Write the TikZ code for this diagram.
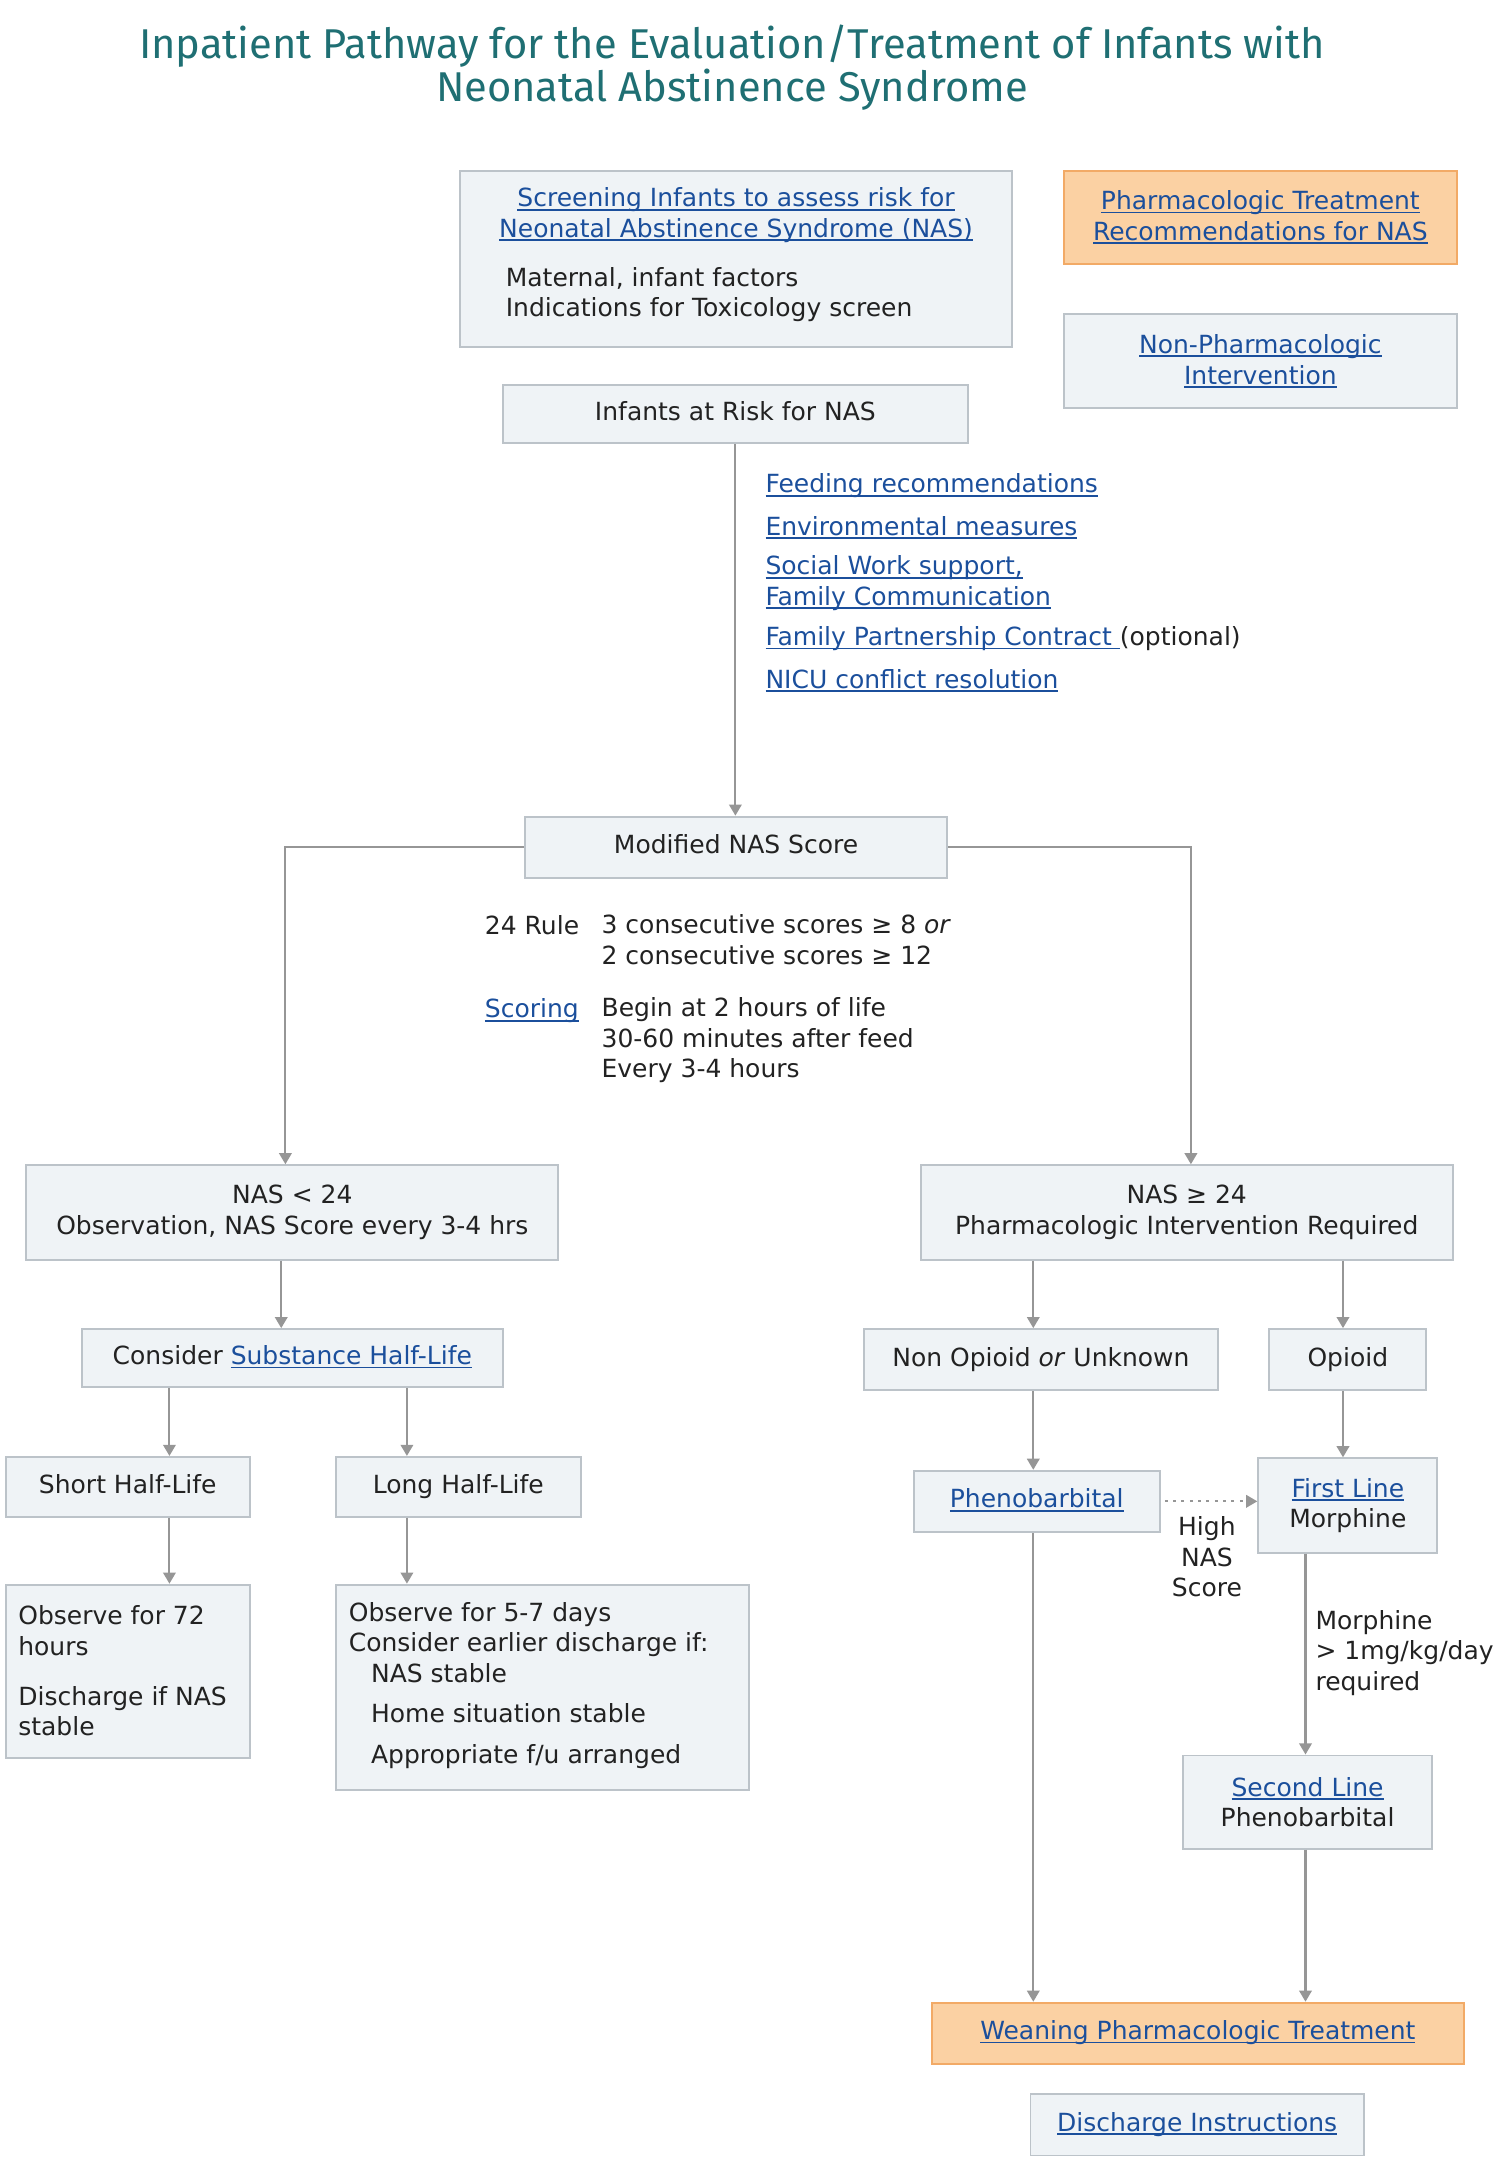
\documentclass[tikz,border=0pt]{standalone}
\usepackage{fontspec}
\setmainfont{DejaVu Sans}
\newfontfamily\titlefont{Fira Sans}
\usepackage{xcolor}
\usetikzlibrary{arrows.meta}
\usetikzlibrary{positioning}
\definecolor{boxfill}{HTML}{EFF3F6}
\definecolor{boxline}{HTML}{BCC3C9}
\definecolor{orangefill}{HTML}{FBD1A3}
\definecolor{orangeline}{HTML}{F2AA66}
\definecolor{linkblue}{HTML}{1B4F9C}
\definecolor{titleteal}{HTML}{1F6F73}
\definecolor{arrowgray}{HTML}{969696}
\definecolor{textdark}{HTML}{222222}
\newcommand{\boxfont}{\fontsize{18}{22}\selectfont}
\newcommand{\lnk}[1]{{\color{linkblue}\setbox0\hbox{#1}\rlap{\rule[-2.6pt]{\wd0}{1.3pt}}\box0}}
\tikzset{
    box/.style={
        draw=boxline,
        fill=boxfill,
        line width=1.4pt,
        inner sep=0pt,
        align=center,
        text=textdark,
        font=\boxfont
    },
    orangebox/.style={
        box,
        draw=orangeline,
        fill=orangefill
    },
    size/.style 2 args={
        minimum width=#1pt,
        minimum height=#2pt
    },
    oneline/.style={
        text height=13.5pt,
        text depth=4pt
    },
    note/.style={
        inner sep=0pt,
        align=left,
        text=textdark,
        font=\boxfont
    }
}

\begin{document}
\begin{tikzpicture}[x=1pt, y=-1pt]
  % Define styles for connectors
  \tikzset{
    flow/.style={
      draw=arrowgray,
      line width=1.5pt,
      -{Triangle[length=8pt, width=9pt]}
    },
    dotflow/.style={
      flow,
      line width=1.3pt,
      dash pattern=on 2pt off 4pt
    }
  }
  \useasboundingbox (0,0) rectangle (1080,1556);

  % Title
  \node[align=center, text=titleteal, font=\titlefont\fontsize{30}{29}\selectfont] (title) at (527,48.5)
    {Inpatient Pathway for the Evaluation/Treatment of Infants with\\Neonatal Abstinence Syndrome};

  % Top boxes
  \node[box, size={398}{127}] (scr) at (530,186.5) {};
  \node[note, align=center, anchor=center] (scrlink) at (530,155)
    {\lnk{Screening Infants to assess risk for}\\\lnk{Neonatal Abstinence Syndrome (NAS)}};
  \node[note, anchor=west] (scrnote) at (364,212)
    {Maternal, infant factors\\Indications for Toxicology screen};
  \node[orangebox, size={283}{67}] (pharm) at (907.5,156.5)
    {\lnk{Pharmacologic Treatment}\\\lnk{Recommendations for NAS}};
  \node[box, size={283}{68}] (nonph) at (907.5,260)
    {\lnk{Non-Pharmacologic}\\\lnk{Intervention}};
  \node[box, oneline, size={335}{42}] (risk) at (529.5,298) {Infants at Risk for NAS};

  % Supportive care links
  \node[note, anchor=west] (feed) at (551,350) {\lnk{Feeding recommendations}};
  \node[note, anchor=west] (env) at (551,380) {\lnk{Environmental measures}};
  \node[note, anchor=west] (soc) at (551,420) {\lnk{Social Work support,}\\\lnk{Family Communication}};
  \node[note, anchor=west] (fpc) at (551,460) {\lnk{Family Partnership Contract\ }(optional)};
  \node[note, anchor=west] (nicu) at (551,490) {\lnk{NICU conflict resolution}};

  % Scoring
  \node[box, oneline, size={304}{44}] (mod) at (530,610) {Modified NAS Score};
  \node[note, anchor=west] (rule) at (349,666) {24 Rule};
  \node[note, anchor=west] (rulesub) at (433,676.5)
    {3 consecutive scores ≥ 8 \textit{or}\\2 consecutive scores ≥ 12};
  \node[note, anchor=west] (scoring) at (349,728) {\lnk{Scoring}};
  \node[note, anchor=west] (scoringsub) at (433,749)
    {Begin at 2 hours of life\\30-60 minutes after feed\\Every 3-4 hours};

  % Left branch
  \node[box, size={383}{68}] (lo) at (210.5,873) {NAS < 24\\Observation, NAS Score every 3-4 hrs};
  \node[box, oneline, size={303}{42}] (cons) at (210.5,978) {Consider \lnk{Substance Half-Life}};
  \node[box, oneline, size={176}{43}] (short) at (92,1070.5) {Short Half-Life};
  \node[box, oneline, size={176}{43}] (long) at (330,1070.5) {Long Half-Life};
  \node[box, size={176}{125}] (obs72) at (92,1203.5) {};
  \node[note, anchor=west] (obs72txt) at (13,1203)
    {Observe for 72\\hours\\[14pt]Discharge if NAS\\stable};
  \node[box, size={297}{148}] (obs57) at (390.5,1215) {};
  \node[note, anchor=west] (obs57txt) at (251,1213.5)
    {Observe for 5-7 days\\Consider earlier discharge if:\\\hspace*{16pt}NAS stable\\[7pt]\hspace*{16pt}Home situation stable\\[7pt]\hspace*{16pt}Appropriate f/u arranged};

  % Right branch
  \node[box, size={383}{68}] (hi) at (854.5,873) {NAS ≥ 24\\Pharmacologic Intervention Required};
  \node[box, oneline, size={255}{44}] (nonop) at (749.5,979) {Non Opioid \textit{or} Unknown};
  \node[box, oneline, size={113}{44}] (opi) at (970.5,979) {Opioid};
  \node[box, oneline, size={177}{44}] (pheno) at (746.5,1081) {\lnk{Phenobarbital}};
  \node[box, size={129}{68}] (first) at (970.5,1084) {\lnk{First Line}\\Morphine};
  \node[note, align=center] (highnas) at (869,1121) {High\\NAS\\Score};
  \node[note, anchor=west] (morph) at (947,1190) {Morphine\\> 1mg/kg/day\\required};
  \node[box, size={179}{67}] (second) at (941.5,1297.5) {\lnk{Second Line}\\Phenobarbital};
  \node[orangebox, oneline, size={383}{44}] (wean) at (862.5,1464) {\lnk{Weaning Pharmacologic Treatment}};
  \node[box, oneline, size={240}{44}] (disch) at (862,1530) {\lnk{Discharge Instructions}};

  % Connector columns
  \coordinate (colA) at (122,0);
  \coordinate (colB) at (293,0);
  \coordinate (colC) at (744,0);
  \coordinate (colD) at (967,0);
  \coordinate (colE) at (940,0);

  % Connectors
  \draw[flow] (risk.south) -- (risk.south |- mod.north);
  \draw[flow] (mod.west) -| ([xshift=-5pt]lo.north);
  \draw[flow] (mod.east) -| ([xshift=3pt]hi.north);
  \draw[flow] ([xshift=-8pt]lo.south) -- ([xshift=-8pt]cons.north);
  \draw[flow] (cons.south -| colA) -- (short.north -| colA);
  \draw[flow] (cons.south -| colB) -- (long.north -| colB);
  \draw[flow] (short.south -| colA) -- (obs72.north -| colA);
  \draw[flow] (long.south -| colB) -- (obs57.north -| colB);
  \draw[flow] (hi.south -| colC) -- (nonop.north -| colC);
  \draw[flow] (hi.south -| colD) -- (opi.north -| colD);
  \draw[flow] (nonop.south -| colC) -- (pheno.north -| colC);
  \draw[flow] (opi.south -| colD) -- (first.north -| colD);
  \draw[dotflow] ([xshift=3pt]pheno.east) -- (pheno.east -| first.west);
  \draw[flow] (first.south -| colE) -- (second.north -| colE);
  \draw[flow] (second.south -| colE) -- (wean.north -| colE);
  \draw[flow] (pheno.south -| colC) -- (wean.north -| colC);
\end{tikzpicture}
\end{document}
